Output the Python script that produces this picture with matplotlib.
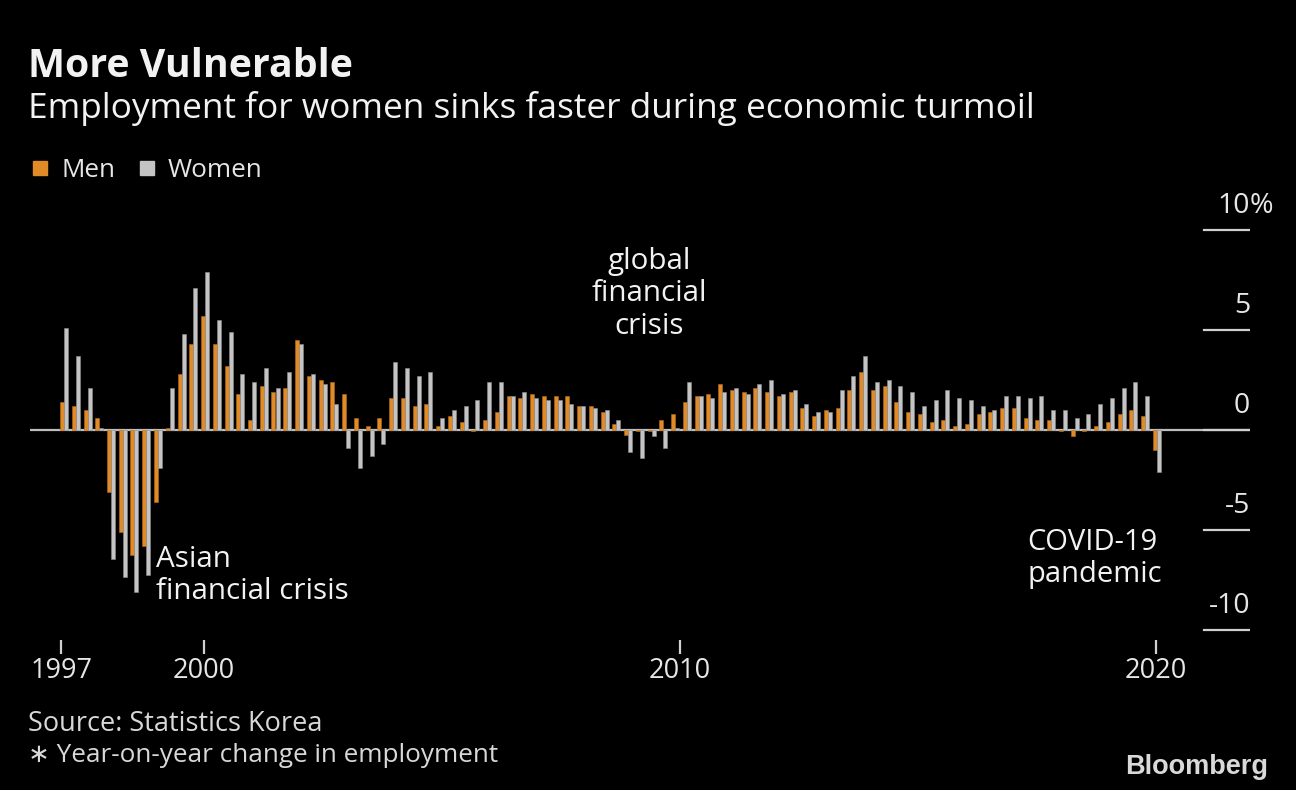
import matplotlib
matplotlib.use("Agg")
import matplotlib.pyplot as plt
import numpy as np

# ---------------- data (year-on-year % change in employment, quarterly) ----------------
periods = [f"{y}Q{q}" for y in range(1997, 2021) for q in range(1, 5)][:94]
men = [1.42, 1.22, 1.02, 0.62, -3.08, -5.08, -6.27, -5.78, -3.58, 0.12, 2.82, 4.32,
       5.72, 4.32, 3.22, 1.82, 0.52, 2.22, 1.92, 2.12, 4.52, 2.72, 2.52, 2.42,
       1.82, 0.62, 0.22, 0.62, 1.62, 1.62, 1.22, 1.32, 0.22, 0.72, 0.42, -0.07,
       0.52, 0.92, 1.72, 1.62, 1.82, 1.72, 1.72, 1.72, 1.22, 1.22, 0.92, 0.32,
       -0.27, -0.07, -0.07, 0.52, 0.82, 1.42, 1.72, 1.82, 2.32, 2.02, 1.92, 2.12,
       1.92, 1.72, 1.92, 1.12, 0.72, 1.02, 1.12, 2.02, 2.92, 2.02, 2.22, 1.42,
       0.92, 0.82, 0.42, 0.52, 0.22, 0.32, 0.82, 0.92, 1.12, 1.12, 0.62, 0.52,
       0.52, -0.07, -0.28, -0.07, 0.22, 0.42, 0.82, 1.02, 0.72, -0.98]
women = [5.10, 3.70, 2.12, 0.12, -6.47, -7.37, -8.08, -7.27, -1.88, 2.12, 4.82, 7.10,
         7.90, 5.50, 4.92, 2.82, 2.42, 3.12, 2.12, 2.92, 4.32, 2.82, 2.32, 1.32,
         -0.88, -1.88, -1.28, -0.68, 3.42, 3.12, 2.72, 2.92, 0.62, 1.02, 1.22, 1.52,
         2.42, 2.42, 1.72, 1.92, 1.62, 1.52, 1.52, 1.32, 1.22, 1.12, 1.02, 0.52,
         -1.08, -1.38, -0.28, -0.88, 0.12, 2.42, 1.72, 1.62, 1.92, 2.12, 1.82, 2.32,
         2.52, 1.82, 2.02, 1.32, 0.92, 0.92, 2.02, 2.72, 3.72, 2.42, 2.52, 2.22,
         1.92, 1.22, 1.52, 2.02, 1.62, 1.52, 1.22, 1.02, 1.72, 1.72, 1.62, 1.72,
         1.02, 1.02, 0.62, 0.82, 1.32, 1.62, 2.12, 2.42, 1.72, -2.08]
year_ticks = [1997, 2000, 2010, 2020]
y_ticks = [10, 5, 0, -5, -10]
y_tick_labels = ["10", "5", "0", "-5", "-10"]

# ---------------- style ----------------
W, H = 1296, 790
BG = "#000000"
ORANGE = "#E08B27"
GREY = "#C4C4C4"
TXT = "#F2F2F2"
LBL = "#E6E6E6"
FONT = ["Open Sans", "DejaVu Sans"]
plt.rcParams["font.family"] = FONT

fig = plt.figure(figsize=(W / 100, H / 100), dpi=100, facecolor=BG)

def fx(px):
    return px / W

def fy(py):
    return 1 - py / H

# axes occupying plot area in pixels
L, R, T, B = 30, 1250, 200, 640
ax = fig.add_axes([fx(L), fy(B), fx(R) - fx(L), fy(T) - fy(B)])
ax.set_facecolor(BG)

# time scale: 47.6 px per year, 1997 at x=61.2 px
PX_YEAR = 47.6
def px_to_year(px):
    return 1997 + (px - 61.2) / PX_YEAR

ax.set_xlim(px_to_year(L), px_to_year(R))
ax.set_ylim((430 - B) / 20, (430 - T) / 20)

# bar positions: successive periods, spacing as drawn in the chart
n = len(periods)
t_start, t_step = px_to_year(60), 11.75 / PX_YEAR
pos = t_start + t_step * np.arange(n)
bw = 4 / PX_YEAR

ax.bar(pos, men, width=bw, align="edge", color=ORANGE, edgecolor="#B86E18",
       linewidth=0.4, zorder=3)
ax.bar(pos + bw, women, width=bw, align="edge", color=GREY, edgecolor="#8E8E8E",
       linewidth=0.4, zorder=3)

# zero line and short right-hand gridlines
ax.axhline(0, color="#BDBDBD", lw=1.6, zorder=2)
gx0 = (1204 - L) / (R - L)
for v in y_ticks:
    ax.axhline(v, xmin=gx0, xmax=1, color="#D0D0D0", lw=1.6, zorder=2)

for s in ax.spines.values():
    s.set_visible(False)
ax.set_yticks([])
ax.set_xticks(year_ticks)
ax.set_xticklabels([str(y) for y in year_ticks], color=LBL, fontsize=19.5)
ax.tick_params(axis="x", length=10, width=1.6, color="#D0D0D0", pad=2,
               direction="out")

# y tick labels (right, above gridlines)
for v, lab in zip(y_ticks, y_tick_labels):
    ax.text(1.0, v + 0.86, lab, transform=ax.get_yaxis_transform(),
            ha="right", va="baseline", color=LBL, fontsize=20.5)
ax.text(1.0, 10 + 0.86, "%", transform=ax.get_yaxis_transform(),
        ha="left", va="baseline", color=LBL, fontsize=20.5)

# ---------------- titles ----------------
fig.text(fx(28), fy(77), "More Vulnerable", fontsize=28.3, fontweight="bold",
         color=TXT, ha="left", va="baseline")
fig.text(fx(28), fy(118), "Employment for women sinks faster during economic turmoil",
         fontsize=25.4, color=TXT, ha="left", va="baseline")

# legend
fig.patches.append(plt.Rectangle((fx(33), fy(175)), fx(14), 14 / H,
                                 transform=fig.transFigure, color=ORANGE))
fig.text(fx(62), fy(177), "Men", fontsize=18.8, color=LBL, va="baseline")
fig.patches.append(plt.Rectangle((fx(140), fy(175)), fx(14), 14 / H,
                                 transform=fig.transFigure, color=GREY))
fig.text(fx(168), fy(177), "Women", fontsize=18.8, color=LBL, va="baseline")

# annotations
fig.text(fx(649), fy(247), "global\nfinancial\ncrisis", fontsize=21.3, color=TXT,
         ha="center", va="top", linespacing=1.15)
fig.text(fx(156), fy(545), "Asian\nfinancial crisis", fontsize=21.3, color=TXT,
         ha="left", va="top", linespacing=1.15)
fig.text(fx(1027), fy(528), "COVID-19\npandemic", fontsize=21, color=TXT,
         ha="left", va="top", linespacing=1.15)

# footer
fig.text(fx(28), fy(731), "Source: Statistics Korea", fontsize=19.5,
         color="#D8D8D8", va="baseline")
fig.text(fx(28), fy(762), "\u2217 Year-on-year change in employment", fontsize=18.8,
         color="#D8D8D8", va="baseline")
fig.text(fx(1268), fy(774), "Bloomberg", fontsize=19.5, fontweight="bold",
         color="#D9D9D9", ha="right", va="baseline",
         family=["Liberation Sans", "DejaVu Sans"])

fig.savefig("out.png", dpi=100, facecolor=BG)
